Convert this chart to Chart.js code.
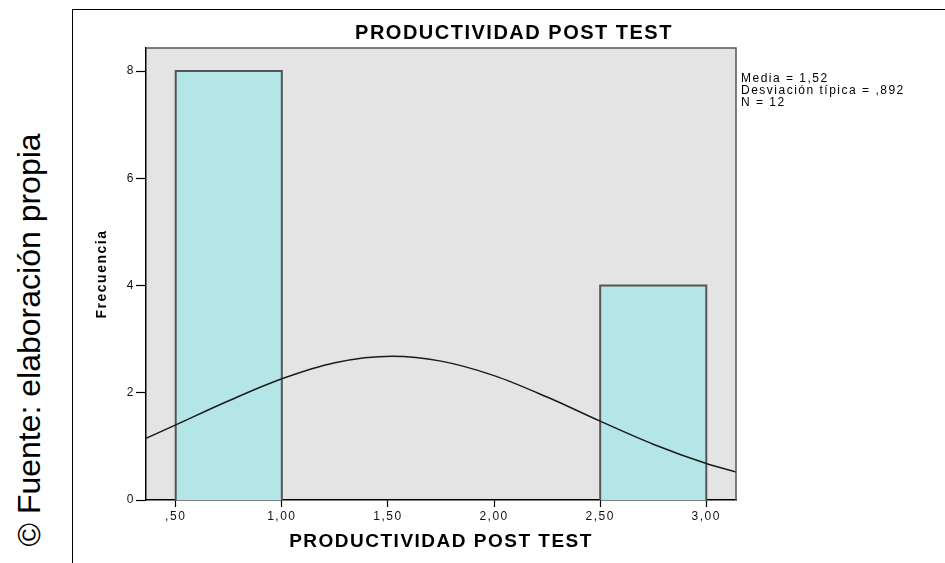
<!DOCTYPE html>
<html><head><meta charset="utf-8">
<script src="https://cdn.jsdelivr.net/npm/chart.js@4.4.1/dist/chart.umd.min.js"></script>
<style>
html,body{margin:0;padding:0;background:#fff;width:945px;height:563px;overflow:hidden;}
#frame{position:absolute;left:72px;top:9px;border-left:1px solid #000;border-top:1px solid #000;}
#box{position:relative;width:872px;height:553px;}
#source{position:absolute;left:29px;top:340px;transform:translate(-50%,-50%) rotate(-90deg);white-space:nowrap;font:32px 'Liberation Sans',Arial,sans-serif;color:#000;line-height:1;}
</style></head><body>
<div id="source">© Fuente: elaboración propia</div>
<div id="frame"><div id="box"><canvas id="c"></canvas></div></div>
<script>
const chartTitle = 'PRODUCTIVIDAD POST TEST';
const xAxisTitle = 'PRODUCTIVIDAD POST TEST';
const yAxisTitle = 'Frecuencia';
const binEdges = [0.5, 1.0, 1.5, 2.0, 2.5, 3.0];
const binCounts = [8, 0, 0, 0, 4];
const xTickValues = [0.5, 1.0, 1.5, 2.0, 2.5, 3.0];
const xTickLabels = [',50', '1,00', '1,50', '2,00', '2,50', '3,00'];
const yTickValues = [0, 2, 4, 6, 8];
const yTickLabels = ['0', '2', '4', '6', '8'];
const curveX = [0.36, 0.5, 0.75, 1.0, 1.25, 1.52, 1.75, 2.0, 2.25, 2.5, 2.75, 3.0, 3.14];
const curveY = [1.15, 1.40, 1.85, 2.26, 2.56, 2.68, 2.59, 2.32, 1.92, 1.47, 1.04, 0.68, 0.52];
const statsLines = ['Media = 1,52', 'Desviación típica = ,892', 'N = 12'];

function fontAvailable(name) {
  const c = document.createElement('canvas').getContext('2d');
  c.font = 'bold 40px monospace';
  const a = c.measureText('Frecuencia').width;
  c.font = 'bold 40px "' + name + '", monospace';
  return c.measureText('Frecuencia').width !== a;
}
const narrow = fontAvailable('Liberation Sans Narrow');
const yTitleFont = narrow
  ? {family: "'Liberation Sans Narrow'", size: 16, weight: 'bold'}
  : {family: "'Liberation Sans'", size: 14, weight: 'bold'};

const SPACING = '1.5px';
const spacingPlugin = {
  id: 'spacing',
  beforeInit(c) { c.ctx.letterSpacing = SPACING; },
  beforeUpdate(c) { c.ctx.letterSpacing = SPACING; },
  beforeLayout(c) { c.ctx.letterSpacing = SPACING; },
  beforeDraw(c) {
    c.ctx.letterSpacing = SPACING;
    const {ctx, chartArea: a} = c;
    ctx.save();
    ctx.fillStyle = '#E4E4E4';
    ctx.fillRect(a.left, a.top, a.right - a.left, a.bottom - a.top);
    ctx.restore();
  },
  afterDatasetsDraw(c) {
    const {ctx, chartArea: a} = c;
    ctx.save();
    ctx.strokeStyle = '#555';
    ctx.lineWidth = 1.5;
    ctx.beginPath();
    ctx.moveTo(a.left, a.top);
    ctx.lineTo(a.right, a.top);
    ctx.lineTo(a.right, a.bottom);
    ctx.stroke();
    ctx.restore();
  },
  afterDraw(c) {
    const {ctx, chartArea: a} = c;
    ctx.save();
    ctx.letterSpacing = SPACING;
    ctx.font = "12px 'Liberation Sans', Arial, sans-serif";
    ctx.fillStyle = '#000';
    ctx.textBaseline = 'alphabetic';
    ctx.textAlign = 'left';
    statsLines.forEach((t, i) => ctx.fillText(t, a.right + 5, a.top + 34 + i * 12));
    ctx.restore();
  }
};

const datasets = [];
binCounts.forEach((n, i) => {
  if (n > 0) {
    datasets.push({
      data: [{x: binEdges[i], y: 0}, {x: binEdges[i], y: n}, {x: binEdges[i + 1], y: n}, {x: binEdges[i + 1], y: 0}],
      fill: 'origin', backgroundColor: '#B4E6E8', borderColor: '#555', borderWidth: 2,
      pointRadius: 0, tension: 0, order: 2
    });
  }
});
datasets.push({
  data: curveX.map((x, i) => ({x: x, y: curveY[i]})),
  fill: false, borderColor: '#1a1a1a', borderWidth: 1.5, pointRadius: 0,
  cubicInterpolationMode: 'monotone', order: 0
});

const tickFont = {family: "'Liberation Sans', Arial, sans-serif", size: 12};

new Chart(document.getElementById('c'), {
  type: 'line',
  data: {datasets: datasets},
  plugins: [spacingPlugin],
  options: {
    responsive: true, maintainAspectRatio: false, animation: false,
    layout: {padding: {left: 10, right: 0, top: 0, bottom: 0}},
    plugins: {
      legend: {display: false}, tooltip: {enabled: false},
      title: {display: true, text: chartTitle, color: '#000',
        font: {family: "'Liberation Sans', Arial, sans-serif", size: 20, weight: 'bold'},
        padding: {top: 11.5, bottom: 2.5}}
    },
    scales: {
      x: {
        type: 'linear', min: 0.36, max: 3.14, z: 1,
        afterBuildTicks: s => { s.ticks = xTickValues.map(v => ({value: v})); },
        afterFit: s => { s.height = 63; },
        ticks: {callback: (v, i) => xTickLabels[i], color: '#111', font: tickFont, padding: 2, maxRotation: 0, autoSkip: false},
        grid: {display: true, drawOnChartArea: false, drawTicks: true, tickLength: 7, tickColor: '#000', tickWidth: 1.2},
        border: {display: true, color: '#000', width: 1.5},
        title: {display: true, text: xAxisTitle, color: '#000',
          font: {family: "'Liberation Sans', Arial, sans-serif", size: 19, weight: 'bold'},
          padding: {top: 0, bottom: 9.6}}
      },
      y: {
        type: 'linear', min: 0, max: 8.43, position: 'left', z: 1,
        afterBuildTicks: s => { s.ticks = yTickValues.map(v => ({value: v})); },
        afterFit: s => { s.width = 63; },
        ticks: {callback: (v, i) => yTickLabels[i], color: '#111', font: tickFont, padding: 1},
        grid: {display: true, drawOnChartArea: false, drawTicks: true, tickLength: 10, tickColor: '#000', tickWidth: 1.2},
        border: {display: true, color: '#000', width: 1.5},
        title: {display: true, text: yAxisTitle, color: '#000', font: yTitleFont, padding: {top: 11, bottom: 0}}
      },
      y2: {
        type: 'linear', position: 'right', display: true,
        afterFit: s => { s.width = 209; },
        ticks: {display: false}, grid: {display: false}, border: {display: false}
      }
    }
  }
});
</script>
</body></html>
